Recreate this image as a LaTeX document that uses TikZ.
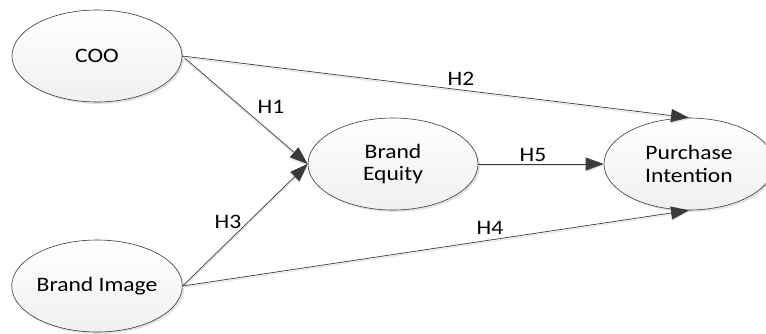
\documentclass[tikz,border=0pt]{standalone}
\usepackage{fontspec}
\setmainfont{Carlito}[FakeStretch=1.15]
\usetikzlibrary{shapes.geometric,arrows.meta,shadows}
\definecolor{linecol}{HTML}{3A3A3A}
\begin{document}
\begin{tikzpicture}[x=1pt,y=-1pt,
  latent/.style={ellipse, draw=linecol, line width=0.6pt,
    minimum width=170pt, minimum height=92pt, inner sep=0pt,
    top color=white, bottom color=gray!12,
    drop shadow={shadow xshift=2pt, shadow yshift=-2pt, fill=gray!45, opacity=0.5},
    align=center, font=\fontsize{20.5}{22.5}\selectfont},
  path/.style={draw=linecol, line width=0.7pt,
    -{Triangle[length=18pt,width=13pt]},
    preaction={draw=gray!22, line width=1pt, transform canvas={yshift=-1.6pt}}},
  hyp/.style={font=\fontsize{20.5}{22}\selectfont, inner sep=0pt}]
\useasboundingbox (0,0) rectangle (766,333);
\node[latent] (coo) at (97,56) {COO};
\node[latent] (bi) at (97,286) {Brand Image};
\node[latent] (be) at (393,164) {Brand\\Equity};
\node[latent] (pi) at (689,164) {Purchase\\Intention};
\draw[path] (coo.east) -- (be.west);
\draw[path] (bi.east) -- (be.west);
\draw[path] (coo.east) -- (pi.north);
\draw[path] (bi.east) -- (pi.south);
\draw[path] (be.east) -- (pi.west);
\node[hyp] (h1) at (271,107) {H1};
\node[hyp] (h2) at (461,79) {H2};
\node[hyp] (h3) at (228,222) {H3};
\node[hyp] (h4) at (490,228) {H4};
\node[hyp] (h5) at (533,155) {H5};
\end{tikzpicture}
\end{document}
